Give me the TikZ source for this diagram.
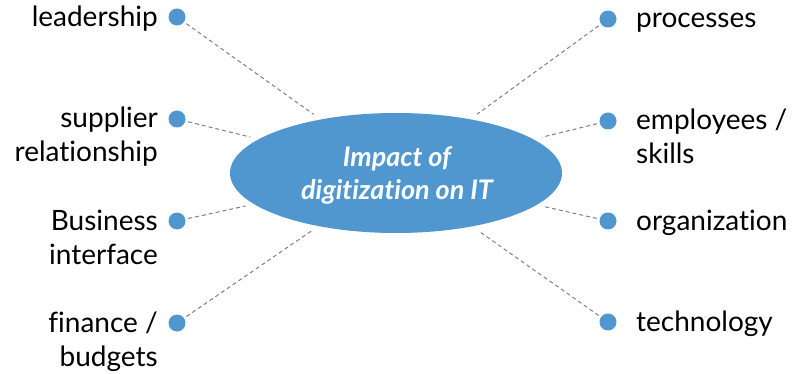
\documentclass[tikz,border=0pt]{standalone}
\usepackage{fontspec}
\setmainfont{Lato}[Ligatures=CommonOff]
\usetikzlibrary{shapes.geometric}
\definecolor{mapblue}{HTML}{5096CF}
\definecolor{linegray}{HTML}{808080}
\tikzset{
  dotnode/.style={circle,fill=mapblue,inner sep=0pt,minimum size=17pt,outer sep=3pt},
  lbl/.style={font=\fontsize{28}{34}\selectfont,inner sep=0pt,text=black},
  lbll/.style={lbl,anchor=base east,align=right},
  lblr/.style={lbl,anchor=base west,align=left},
  spoke/.style={draw=linegray,line width=1pt,dash pattern=on 4pt off 3pt,shorten >=8.5pt},
}
\begin{document}
\begin{tikzpicture}[x=1pt,y=-1pt]
\useasboundingbox (0,0) rectangle (792,374);
\node[ellipse,fill=mapblue,minimum width=332pt,minimum height=120pt,inner sep=0pt] (ell) at (396,173) {};
\node[font=\fontsize{27}{33}\selectfont\bfseries\itshape,text=white,align=center,anchor=base,inner sep=0pt] (title) at (397,200) {Impact of\\digitization on IT};
% left dots
\node[dotnode] (d1) at (177,17) {};
\node[dotnode] (d2) at (177,119) {};
\node[dotnode] (d3) at (177,221) {};
\node[dotnode] (d4) at (177,323) {};
% right dots
\node[dotnode] (d5) at (608,19) {};
\node[dotnode] (d6) at (608,121) {};
\node[dotnode] (d7) at (608,221) {};
\node[dotnode] (d8) at (608,322) {};
% labels (anchor = baseline of last line)
\node[lbll] (l1) at (158,27) {leadership};
\node[lbll] (l2) at (158,162) {supplier\\relationship};
\node[lbll] (l3) at (158,264) {Business\\interface};
\node[lbll] (l4) at (158,366) {finance /\\budgets};
\node[lblr] (l5) at (636,28) {processes};
\node[lblr] (l6) at (636,164) {employees /\\skills};
\node[lblr] (l7) at (636,230) {organization};
\node[lblr] (l8) at (636,331) {technology};
% spokes
\foreach \d in {d1,d2,d3,d4,d5,d6,d7,d8}
  \draw[spoke] (\d) -- (ell);
\end{tikzpicture}
\end{document}
